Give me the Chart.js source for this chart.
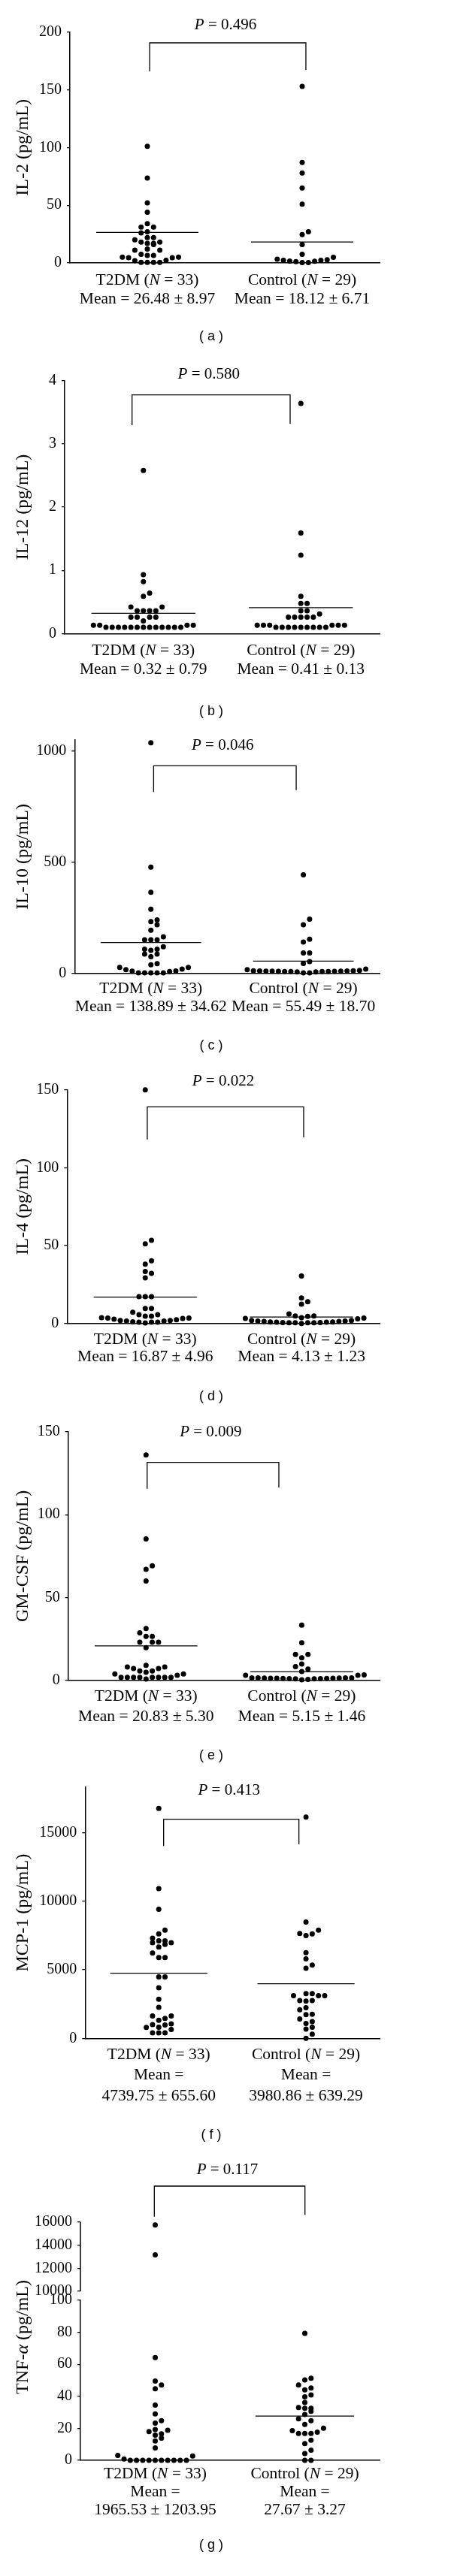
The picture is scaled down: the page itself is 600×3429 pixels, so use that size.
<!DOCTYPE html>
<html>
<head>
<meta charset="utf-8">
<script src="https://cdn.jsdelivr.net/npm/chart.js@4/dist/chart.umd.min.js"></script>
<style>
html,body{margin:0;padding:0;background:#fff;}
body{width:600px;height:3429px;position:relative;overflow:hidden;}
canvas{position:absolute;left:0;}
</style>
</head>
<body>
<script>
// ---------------- DATA ----------------
const groups = ['T2DM', 'Control'];
const groupN = [33, 29];

// (a) IL-2
const il2T2dm = [101, 73.5, 52, 44, 34, 31, 31, 27, 26, 22, 22, 20, 18, 18, 17, 17, 16, 12, 11, 11, 7.5, 6.5, 6.5, 5, 5, 4.5, 4.5, 2.2, 2, 0.5, 0.5, 0.5, 0.5];
const il2Control = [153, 87, 78, 65, 51, 27, 24.5, 16, 7.5, 4.8, 3.3, 2.8, 2.2, 2.2, 1.7, 1.5, 1.1, 0.4, 0.4];
const il2Mean = [26.48, 18.12];
const il2Sem = [8.97, 6.71];
const il2P = 0.496;
const il2Ticks = [0, 50, 100, 150, 200];

// (b) IL-12
const il12T2dm = [2.58, 0.93, 0.82, 0.64, 0.59, 0.42, 0.42, 0.36, 0.36, 0.36, 0.36, 0.26, 0.26, 0.26, 0.26, 0.2, 0.13, 0.13, 0.13, 0.13, 0.1, 0.1, 0.1, 0.1, 0.1, 0.1, 0.1, 0.1, 0.1, 0.1, 0.1, 0.1, 0.1];
const il12Control = [3.64, 1.59, 1.24, 0.59, 0.475, 0.475, 0.36, 0.36, 0.31, 0.26, 0.26, 0.26, 0.26, 0.26, 0.13, 0.13, 0.13, 0.13, 0.13, 0.13, 0.1, 0.1, 0.1, 0.1, 0.1, 0.1, 0.1, 0.1, 0.1];
const il12Mean = [0.32, 0.41];
const il12Sem = [0.79, 0.13];
const il12P = 0.580;
const il12Ticks = [0, 1, 2, 3, 4];

// (c) IL-10
const il10T2dm = [1037, 478, 365, 289, 241, 233, 219, 194, 165, 151, 151, 151, 120, 109, 109, 104, 87, 87, 75, 44, 39, 27, 27, 19, 17, 11, 10, 8, 2, 2, 2, 2, 2];
const il10Control = [443, 244, 219, 154, 141, 92, 92, 53, 45, 19, 17, 13, 12, 12, 11, 11, 10, 10, 10, 9, 9, 8, 8, 8, 8, 7, 7, 2, 2];
const il10Mean = [138.89, 55.49];
const il10Sem = [34.62, 18.70];
const il10P = 0.046;
const il10Ticks = [0, 500, 1000];

// (d) IL-4
const il4T2dm = [150, 53.4, 51.1, 40.2, 38.1, 33.4, 32.2, 29.3, 17.2, 17.2, 17.2, 9.6, 9.6, 7.2, 5.6, 5.6, 4.7, 4.7, 3.7, 3.5, 3.5, 3.2, 2.7, 2.4, 1.9, 1.9, 1.6, 1.6, 1.1, 0.8, 0.8, 0.8, 0.3];
const il4Control = [30.5, 16.4, 14, 12.4, 6.1, 4.8, 4.8, 4.6, 3.7, 3.5, 3.2, 3.0, 1.9, 1.9, 1.6, 1.6, 1.3, 1.3, 1.0, 1.0, 0.8, 0.8, 0.6, 0.6, 0.5, 0.5, 0.4, 0.4, 0];
const il4Mean = [16.87, 4.13];
const il4Sem = [4.96, 1.23];
const il4P = 0.022;
const il4Ticks = [0, 50, 100, 150];

// (e) GM-CSF
const gmcsfT2dm = [136, 85.4, 69.1, 67, 60, 31.3, 28.7, 26.5, 26.5, 23, 23, 23, 19.7, 9.1, 8, 8, 7.1, 7.1, 5.6, 5.6, 4.8, 3.8, 3.8, 3, 1.8, 1.8, 1.8, 1.8, 1.8, 1.8, 1.8, 1.8, 0.8];
const gmcsfControl = [33.3, 22.7, 15.6, 15.6, 13.6, 9.8, 8.3, 6.8, 5.3, 3.3, 3, 3, 1.5, 1.5, 1.4, 1.4, 1.3, 1.3, 1.2, 1.2, 1.2, 1.1, 1.1, 1.0, 1.0, 0.9, 0.9, 0.5, 0.3];
const gmcsfMean = [20.83, 5.15];
const gmcsfSem = [5.30, 1.46];
const gmcsfP = 0.009;
const gmcsfTicks = [0, 50, 100, 150];

// (f) MCP-1
const mcp1T2dm = [16760, 10906, 9402, 7880, 7609, 7301, 7101, 7101, 6975, 6975, 6848, 6649, 6214, 5888, 5888, 4475, 4475, 3678, 2844, 2265, 1630, 1630, 1450, 1320, 1050, 1000, 980, 815, 800, 640, 400, 400, 400];
const mcp1Control = [16123, 8478, 7880, 7645, 7609, 7482, 6250, 5797, 5344, 5109, 3261, 3261, 3116, 3116, 3116, 2754, 2754, 2717, 2228, 2083, 1757, 1721, 1413, 1214, 1087, 815, 670, 308, 0];
const mcp1Mean = [4739.75, 3980.86];
const mcp1Sem = [655.60, 639.29];
const mcp1P = 0.413;
const mcp1Ticks = [0, 5000, 10000, 15000];

// (g) TNF-alpha (broken axis)
const tnfT2dm = [15760, 13170, 64.2, 49.5, 47.1, 44.7, 34.5, 29, 24.8, 23.2, 19.3, 18.8, 18, 16.5, 15.7, 13.8, 12.1, 7.8, 3.1, 2.7, 0.8, 0, 0, 0, 0, 0, 0, 0, 0, 0, 0];
const tnfControl = [79.3, 51.3, 50.2, 47.1, 45.2, 44, 40.8, 39.7, 36.1, 33, 32.5, 32.5, 30.6, 28.6, 25.9, 24.8, 22.4, 20.1, 18.5, 17.6, 16.8, 16.8, 16.8, 12.6, 10.5, 6.3, 4.2, 0, 0];
const tnfMean = [1965.53, 27.67];
const tnfSem = [1203.95, 3.27];
const tnfP = 0.117;
const tnfTicks = [0, 20, 40, 60, 80, 100];
const tnfUpperTicks = [10000, 12000, 14000, 16000];

// ---------------- PANEL SETUP ----------------
const panelData = [
  {t2dm: il2T2dm, ctrl: il2Control, mean: il2Mean, sem: il2Sem, p: il2P, ticks: il2Ticks, yMax: 200, title: 'IL-2 (pg/mL)'},
  {t2dm: il12T2dm, ctrl: il12Control, mean: il12Mean, sem: il12Sem, p: il12P, ticks: il12Ticks, yMax: 4, title: 'IL-12 (pg/mL)'},
  {t2dm: il10T2dm, ctrl: il10Control, mean: il10Mean, sem: il10Sem, p: il10P, ticks: il10Ticks, yMax: 1050, title: 'IL-10 (pg/mL)'},
  {t2dm: il4T2dm, ctrl: il4Control, mean: il4Mean, sem: il4Sem, p: il4P, ticks: il4Ticks, yMax: 150, title: 'IL-4 (pg/mL)'},
  {t2dm: gmcsfT2dm, ctrl: gmcsfControl, mean: gmcsfMean, sem: gmcsfSem, p: gmcsfP, ticks: gmcsfTicks, yMax: 150, title: 'GM-CSF (pg/mL)'},
  {t2dm: mcp1T2dm, ctrl: mcp1Control, mean: mcp1Mean, sem: mcp1Sem, p: mcp1P, ticks: mcp1Ticks, yMax: 18300, title: 'MCP-1 (pg/mL)'},
  {t2dm: tnfT2dm, ctrl: tnfControl, mean: tnfMean, sem: tnfSem, p: tnfP, ticks: tnfTicks, yMax: 100, upperTicks: tnfUpperTicks, upperMax: 16000, title: null}
];

const layoutCfg = [
  {id:'a', top:0, h:480, axisX:93, plotTop:42.7, plotBottom:350, pY:33, brX:[0.015,1.024], brY:[57,95,93], labY:[373,398], tagY:448},
  {id:'b', top:480, h:480, axisX:86, plotTop:506.7, plotBottom:843.3, pY:498.3, brX:[-0.072,0.932], brY:[525.7,566,564], labY:[866.7,891.7], tagY:946.7},
  {id:'c', top:960, h:460, axisX:99.3, plotTop:985, plotBottom:1295.7, pY:992.3, brX:[0.018,0.953], brY:[1019.3,1054.3,1051.7], labY:[1316,1340], tagY:1392.3},
  {id:'d', top:1420, h:460, axisX:89.3, plotTop:1450.7, plotBottom:1761.7, pY:1439.3, brX:[0.013,1.014], brY:[1473.3,1516.7,1514], labY:[1783.3,1806.7], tagY:1859},
  {id:'e', top:1880, h:480, axisX:90.7, plotTop:1906, plotBottom:2236.7, pY:1906.7, brX:[0.007,0.853], brY:[1946.7,1981.7,1980], labY:[2258.3,2285], tagY:2336.7},
  {id:'f', top:2360, h:500, axisX:113.3, plotTop:2375, plotBottom:2713.3, pY:2383.3, brX:[0.033,0.952], brY:[2421.7,2457.3,2455], labY:[2735,2762,2790], tagY:2841.7},
  {id:'g', top:2860, h:569, axisX:107, plotTop:2958, plotBottom:3275, split:3062, gap:12, pY:2888.3, brX:[-0.006,1.001], brY:[2910,2950.7,2948.3], labY:[3293.3,3317,3341.7], tagY:3388.3, titleY:3111}
];

const PLOT_RIGHT = 505;
const DOT_R = 3.5;
const DOT_SP = 8.3;
const ROW_BIN = 7.5;
const MEAN_HW = 0.33;
const LABEL_SIZE = 21.5;
const TITLE_SIZE = 24;
const SERIF = '"Liberation Serif", "Times New Roman", serif';

function fnt(size, italic) { return (italic ? 'italic ' : '') + size + 'px ' + SERIF; }

function rich(ctx, parts, cx, y, size) {
  let w = 0;
  parts.forEach(p => { ctx.font = fnt(size, p[1]); w += ctx.measureText(p[0]).width; });
  let x = cx - w / 2;
  ctx.textAlign = 'left';
  ctx.textBaseline = 'middle';
  parts.forEach(p => { ctx.font = fnt(size, p[1]); ctx.fillText(p[0], x, y); x += ctx.measureText(p[0]).width; });
}

// Prism-like scatter dot layout: rows of near-equal values spread out from the centre
const swarmPlugin = {
  id: 'swarm',
  afterDatasetsUpdate(chart) {
    chart.data.datasets.forEach((ds, di) => {
      if (!ds.swarm) return;
      const meta = chart.getDatasetMeta(di);
      const pts = meta.data.slice().sort((a, b) => b.y - a.y);
      const rows = [];
      let cur = null;
      pts.forEach(p => {
        if (cur && cur.y0 - p.y < ROW_BIN) cur.items.push(p);
        else { cur = {y0: p.y, items: [p]}; rows.push(cur); }
      });
      rows.forEach(r => {
        r.items.forEach((p, k) => {
          const slot = k === 0 ? 0 : (k % 2 === 1 ? (k + 1) / 2 : -k / 2);
          p.x = p.x + slot * DOT_SP;
        });
      });
    });
  }
};

function makeDecor(L, D) {
  return {
    id: 'decor' + L.id,
    afterDraw(chart) {
      const ctx = chart.ctx, xs = chart.scales.x, T = L.top;
      ctx.save();
      ctx.fillStyle = '#000';
      ctx.strokeStyle = '#000';
      ctx.lineWidth = 1.3;
      // significance bracket
      const x0 = xs.getPixelForValue(L.brX[0]), x1 = xs.getPixelForValue(L.brX[1]);
      ctx.beginPath();
      ctx.moveTo(x0, L.brY[1] - T);
      ctx.lineTo(x0, L.brY[0] - T);
      ctx.lineTo(x1, L.brY[0] - T);
      ctx.lineTo(x1, L.brY[2] - T);
      ctx.stroke();
      rich(ctx, [['P', true], [' = ' + D.p.toFixed(3), false]], (x0 + x1) / 2 - 3, L.pY - T, 21);
      // category labels
      groups.forEach((g, i) => {
        const cx = xs.getPixelForValue(i);
        rich(ctx, [[g + ' (', false], ['N', true], [' = ' + groupN[i] + ')', false]], cx, L.labY[0] - T, LABEL_SIZE);
        const ms = D.mean[i].toFixed(2) + ' ± ' + D.sem[i].toFixed(2);
        if (L.labY.length === 3) {
          rich(ctx, [['Mean =', false]], cx, L.labY[1] - T, LABEL_SIZE);
          rich(ctx, [[ms, false]], cx, L.labY[2] - T, LABEL_SIZE);
        } else {
          rich(ctx, [['Mean = ' + ms, false]], cx, L.labY[1] - T, LABEL_SIZE);
        }
      });
      // panel tag
      ctx.font = '18px "Liberation Sans", Arial, sans-serif';
      ctx.textAlign = 'center';
      ctx.textBaseline = 'middle';
      ctx.fillText('( ' + L.id + ' )', 281, L.tagY - T);
      // broken axis extras
      if (L.split) {
        const y2 = chart.scales.y2;
        const ax = chart.chartArea.left;
        ctx.lineWidth = 1.5;
        ctx.beginPath();
        ctx.moveTo(ax, y2.getPixelForValue(D.upperTicks[0]));
        ctx.lineTo(ax, y2.getPixelForValue(D.upperMax));
        ctx.stroke();
        ctx.save();
        ctx.translate(31, L.titleY - T);
        ctx.rotate(-Math.PI / 2);
        rich(ctx, [['TNF-', false], ['α', true], [' (pg/mL)', false]], 0, 0, TITLE_SIZE);
        ctx.restore();
      }
      ctx.restore();
    }
  };
}

function yScale(L, min, max, ticks, extra) {
  return Object.assign({
    type: 'linear', position: 'left', min: min, max: max,
    afterFit: s => { s.width = L.axisX; },
    afterBuildTicks: s => { s.ticks = ticks.map(v => ({value: v})); },
    ticks: {color: '#000', font: {family: SERIF, size: 20}, padding: 7, autoSkip: false, callback: v => String(v)},
    grid: {display: true, drawOnChartArea: false, drawTicks: true, tickLength: 4, color: '#000', lineWidth: 1.3},
    border: {display: true, color: '#000', width: 1.5}
  }, extra || {});
}

function build(L, D) {
  const cv = document.createElement('canvas');
  cv.width = 600; cv.height = L.h;
  cv.style.top = L.top + 'px';
  cv.style.width = '600px';
  cv.style.height = L.h + 'px';
  document.body.appendChild(cv);
  const broken = !!L.split;
  const datasets = [];
  [D.t2dm, D.ctrl].forEach((vals, gi) => {
    const low = broken ? vals.filter(v => v <= D.yMax) : vals;
    const high = broken ? vals.filter(v => v > D.yMax) : [];
    datasets.push({type: 'scatter', swarm: true, data: low.map(v => ({x: gi, y: v})), yAxisID: 'y',
      pointRadius: DOT_R, pointBackgroundColor: '#000', pointBorderWidth: 0, clip: false});
    if (high.length) {
      datasets.push({type: 'scatter', swarm: true, data: high.map(v => ({x: gi, y: v})), yAxisID: 'y2',
        pointRadius: DOT_R, pointBackgroundColor: '#000', pointBorderWidth: 0, clip: false});
    }
    if (D.mean[gi] <= D.yMax) {
      datasets.push({type: 'line', data: [{x: gi - MEAN_HW, y: D.mean[gi]}, {x: gi + MEAN_HW, y: D.mean[gi]}],
        yAxisID: 'y', borderColor: '#000', borderWidth: 1.3, pointRadius: 0, fill: false});
    }
  });

  const scales = {
    x: {type: 'linear', min: -0.5, max: 1.5,
      afterFit: s => { s.height = 0; },
      ticks: {display: false}, grid: {display: false},
      border: {display: true, color: '#000', width: 1.5}}
  };
  if (!broken) {
    scales.y = yScale(L, 0, D.yMax, D.ticks, {
      title: {display: true, text: D.title, color: '#000', font: {family: SERIF, size: TITLE_SIZE, lineHeight: 1.2}, padding: {top: 16.6, bottom: 0}}
    });
  } else {
    const upperH = L.split - L.plotTop;
    const upperMin = D.upperMax - (D.upperMax - D.upperTicks[0]) * upperH / (upperH - L.gap);
    scales.y = yScale(L, 0, D.yMax, D.ticks, {stack: 'tnf', stackWeight: L.plotBottom - L.split});
    scales.y2 = yScale(L, upperMin, D.upperMax, D.upperTicks, {stack: 'tnf', stackWeight: upperH,
      border: {display: false}});
  }

  new Chart(cv, {
    type: 'scatter',
    data: {datasets: datasets},
    options: {
      responsive: false, animation: false, devicePixelRatio: 1, events: [],
      layout: {padding: {left: 0, right: 600 - PLOT_RIGHT, top: L.plotTop - L.top, bottom: L.top + L.h - L.plotBottom}},
      plugins: {legend: {display: false}, tooltip: {enabled: false}},
      scales: scales
    },
    plugins: [swarmPlugin, makeDecor(L, D)]
  });
}

layoutCfg.forEach((L, i) => build(L, panelData[i]));
</script>
</body>
</html>
